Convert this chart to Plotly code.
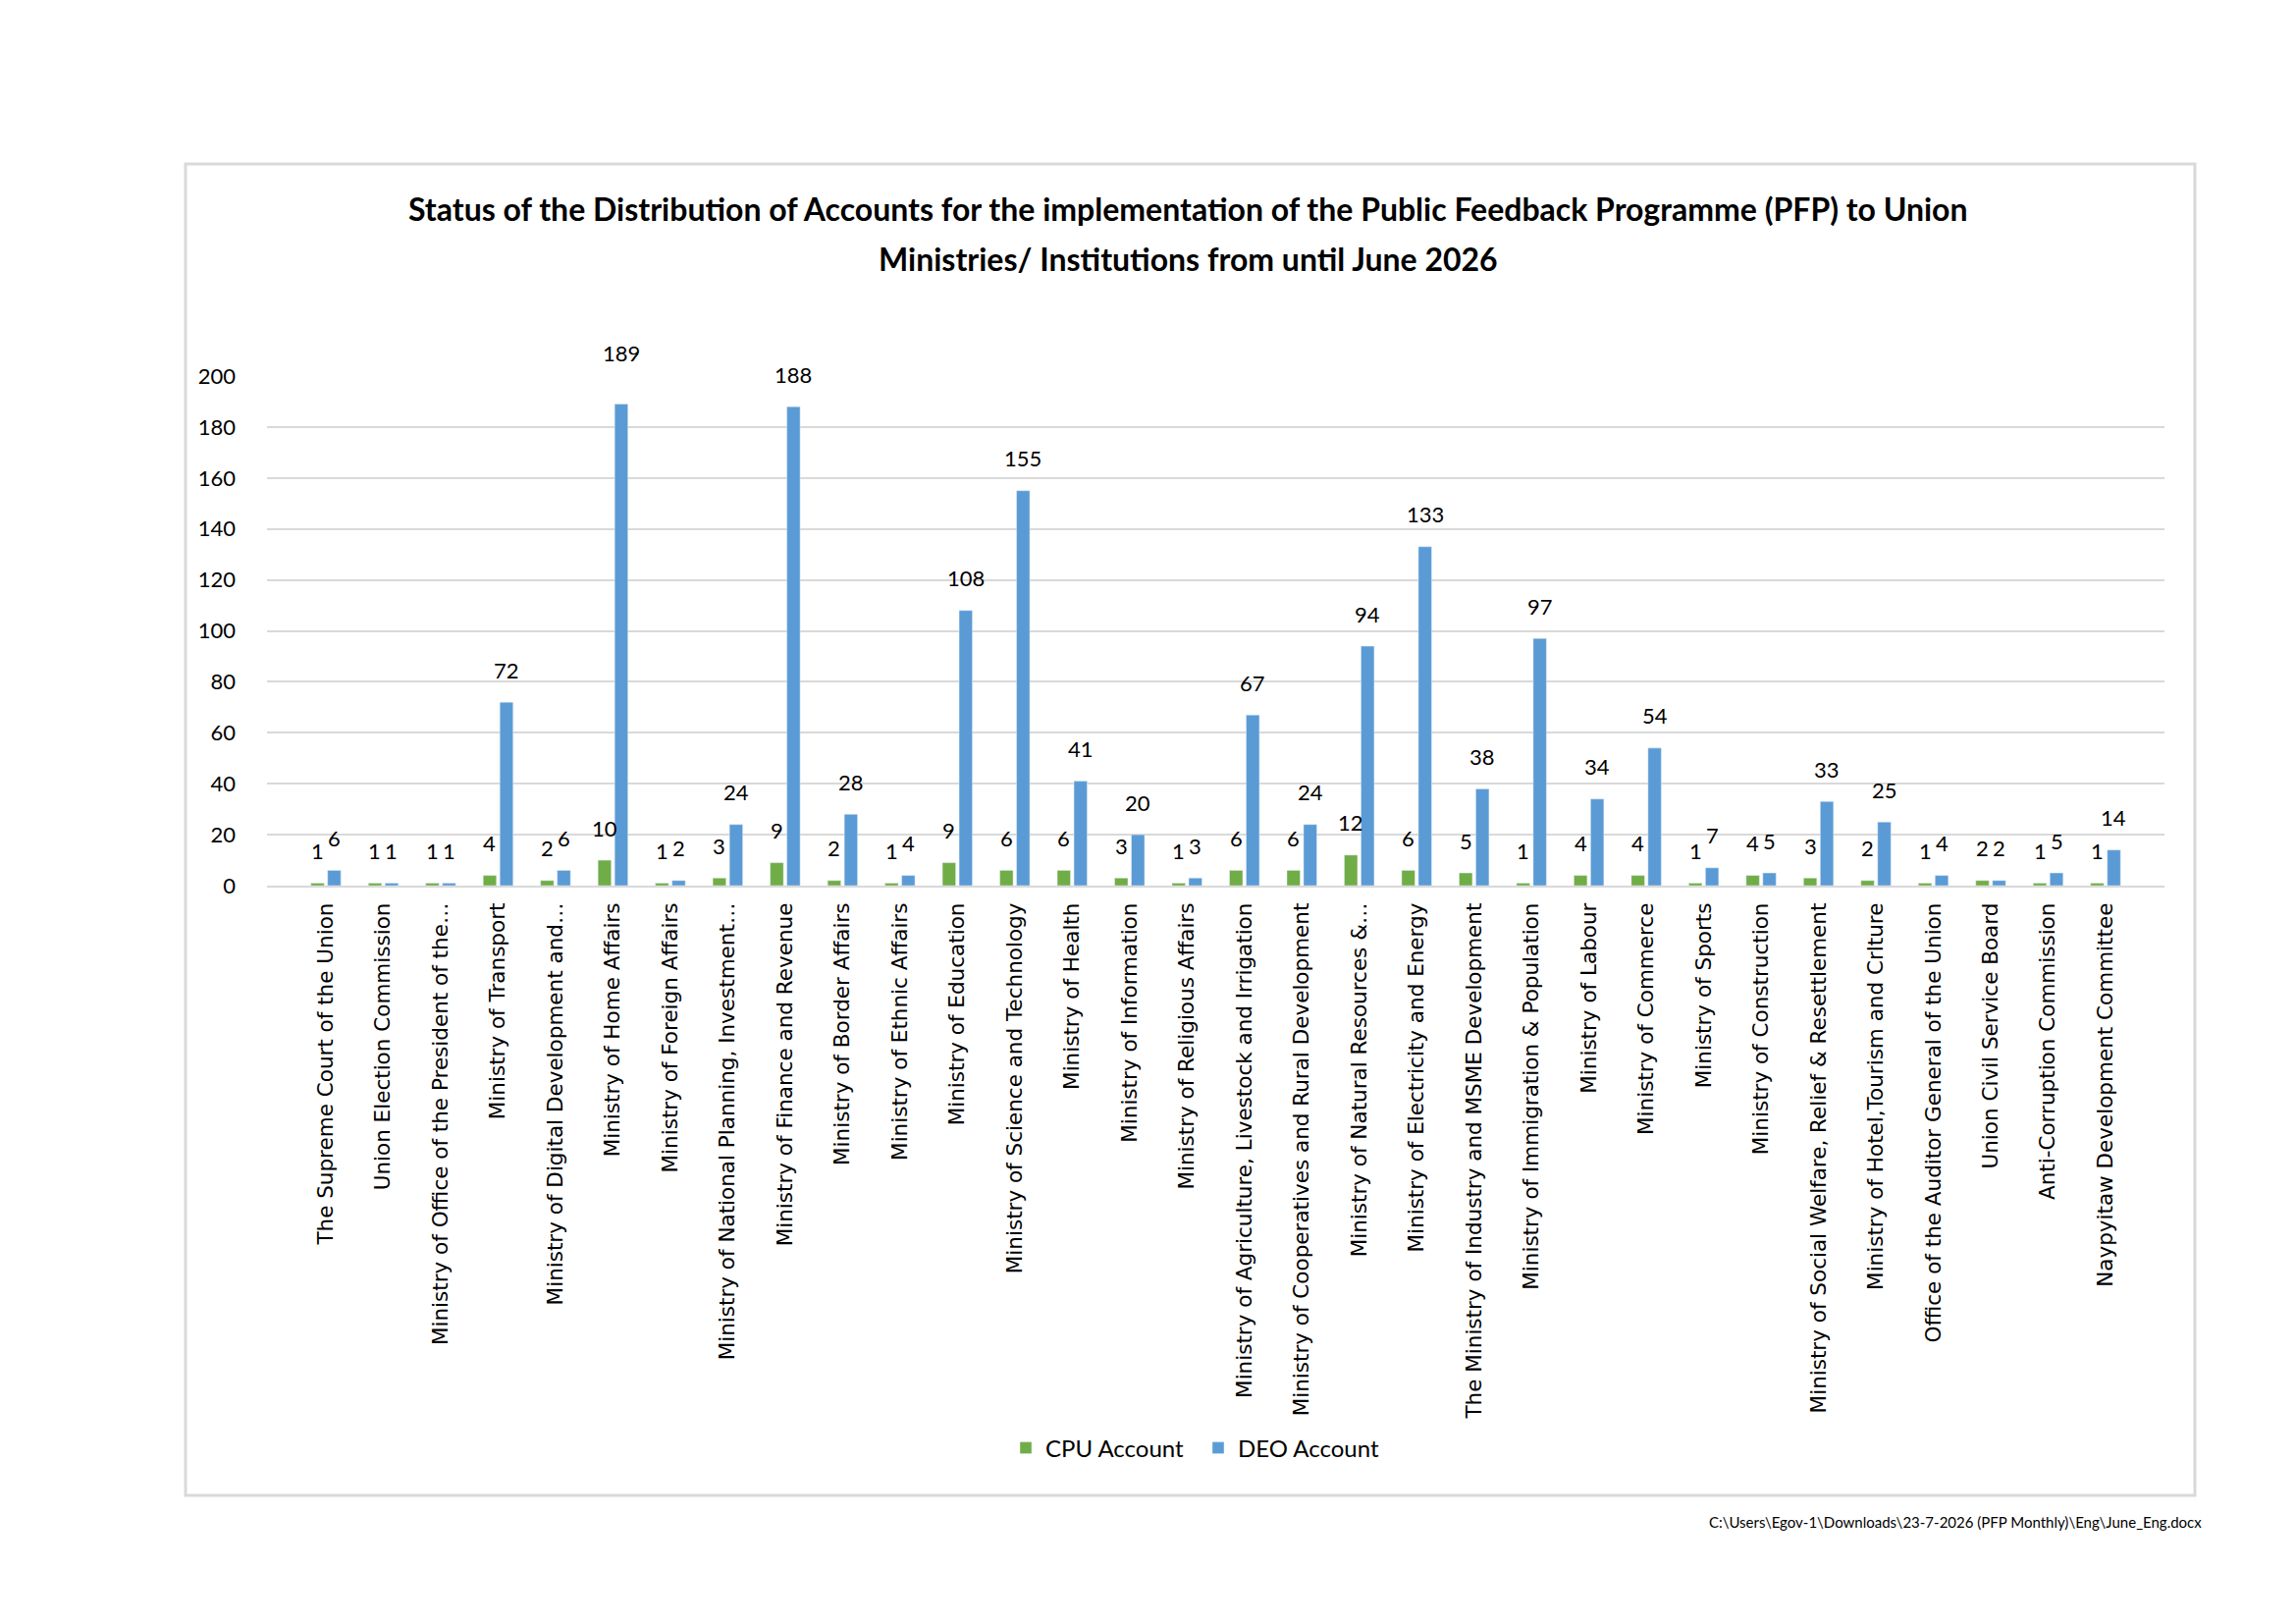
import plotly.graph_objects as go

categories = [
    "The Supreme Court of the Union",
    "Union Election Commission",
    "Ministry of Office of the President of the…",
    "Ministry of Transport",
    "Ministry of Digital Development and…",
    "Ministry of Home Affairs",
    "Ministry of Foreign Affairs",
    "Ministry of National Planning, Investment…",
    "Ministry of Finance and Revenue",
    "Ministry of Border Affairs",
    "Ministry of Ethnic Affairs",
    "Ministry of Education",
    "Ministry of Science and Technology",
    "Ministry of Health",
    "Ministry of Information",
    "Ministry of Religious Affairs",
    "Ministry of Agriculture, Livestock and Irrigation",
    "Ministry of Cooperatives and Rural Development",
    "Ministry of Natural Resources &…",
    "Ministry of Electricity and Energy",
    "The Ministry of Industry and MSME Development",
    "Ministry of Immigration & Population",
    "Ministry of Labour",
    "Ministry of Commerce",
    "Ministry of Sports",
    "Ministry of Construction",
    "Ministry of Social Welfare, Relief & Resettlement",
    "Ministry of Hotel,Tourism and Crlture",
    "Office of the Auditor General of the Union",
    "Union Civil Service Board",
    "Anti-Corruption Commission",
    "Naypyitaw Development Committee",
]
cpu_account = [1, 1, 1, 4, 2, 10, 1, 3, 9, 2, 1, 9, 6, 6, 3, 1, 6, 6, 12, 6, 5, 1, 4, 4, 1, 4, 3, 2, 1, 2, 1, 1]
deo_account = [6, 1, 1, 72, 6, 189, 2, 24, 188, 28, 4, 108, 155, 41, 20, 3, 67, 24, 94, 133, 38, 97, 34, 54, 7, 5, 33, 25, 4, 2, 5, 14]
y_ticks = [0, 20, 40, 60, 80, 100, 120, 140, 160, 180, 200]

title_line1 = "Status of the Distribution of Accounts for the implementation of the Public Feedback Programme (PFP) to Union"
title_line2 = "Ministries/ Institutions from until June 2026"
footer_text = "C:\\Users\\Egov-1\\Downloads\\23-7-2026 (PFP Monthly)\\Eng\\June_Eng.docx"

W, H = 2339, 1654
L, R = 264, 2197
T, B = 375, 894
PW, PH = R - L, B - T

LATO = "Lato, Open Sans, sans-serif"
SANS = "DejaVu Sans, Verdana, sans-serif"

# categorical axis padding (Excel leaves space before the first and after the last group)
PAD = 0.526
N = len(categories)
cat_px = PW / (N + 2 * PAD)
BARGAP = 0.419
BARGROUPGAP = 0.206
slot = (1 - BARGAP) * cat_px / 2
LABEL_LIFT = 33
# the reference lifts the tallest label a little further above its bar
label_extra_lift = {"Ministry of Home Affairs": 19}


def px_x(v):
    return (v - L) / PW


def px_y(v):
    return (B - v) / PH


fig = go.Figure()
fig.add_trace(go.Bar(name="CPU Account", x=categories, y=cpu_account, marker_color="#70AD47"))
fig.add_trace(go.Bar(name="DEO Account", x=categories, y=deo_account, marker_color="#5B9BD5"))

label_font = dict(family=LATO, size=22, color="#000000")
annotations = []
for cat, c, d in zip(categories, cpu_account, deo_account):
    annotations.append(dict(x=cat, y=c, xref="x", yref="y", text=str(c), showarrow=False,
                            xshift=-slot / 2, yshift=LABEL_LIFT, yanchor="middle", xanchor="center",
                            font=label_font))
    annotations.append(dict(x=cat, y=d, xref="x", yref="y", text=str(d), showarrow=False,
                            xshift=slot / 2, yshift=LABEL_LIFT + label_extra_lift.get(cat, 0),
                            yanchor="middle", xanchor="center", font=label_font))

title_font = dict(family=LATO, size=32, color="#000000", weight="bold")
annotations.append(dict(text=title_line1, xref="paper", yref="paper", x=px_x(1202), y=px_y(204),
                        xanchor="center", yanchor="middle", showarrow=False, font=title_font))
annotations.append(dict(text=title_line2, xref="paper", yref="paper", x=px_x(1202), y=px_y(256),
                        xanchor="center", yanchor="middle", showarrow=False, font=title_font))
annotations.append(dict(text=footer_text, xref="paper", yref="paper", x=px_x(2237), y=px_y(1542),
                        xanchor="right", yanchor="middle", showarrow=False,
                        font=dict(family=LATO, size=15, color="#000000")))

fig.update_layout(
    width=W, height=H,
    margin=dict(l=L, r=W - R, t=T, b=H - B, autoexpand=False),
    paper_bgcolor="white", plot_bgcolor="white",
    barmode="group", bargap=BARGAP, bargroupgap=BARGROUPGAP,
    legend=dict(orientation="h", x=px_x(1213), xanchor="center", y=px_y(1467), yanchor="middle",
                font=dict(family=LATO, size=24, color="#000000"), itemwidth=30,
                entrywidth=151, entrywidthmode="pixels", traceorder="normal"),
    showlegend=True,
    shapes=[dict(type="rect", xref="paper", yref="paper",
                 x0=px_x(181), x1=px_x(2228), y0=px_y(1515), y1=px_y(159),
                 line=dict(color="#D9D9D9", width=3), fillcolor="rgba(0,0,0,0)", layer="below")],
    annotations=annotations,
)
fig.update_xaxes(
    range=[-0.5 - PAD, N - 0.5 + PAD],
    tickangle=-90, tickfont=dict(family=SANS, size=21.5, color="#000000"),
    showgrid=False, showline=True, linecolor="#D9D9D9", linewidth=2,
    ticks="", ticklabelstandoff=7, zeroline=False,
)
fig.update_yaxes(
    range=[0, 200], tickvals=y_ticks, tickfont=dict(family=LATO, size=22, color="#000000"),
    showgrid=True, gridcolor="#D9D9D9", gridwidth=2, zeroline=False, showline=False,
    ticks="", ticklabelstandoff=31,
)

fig.write_html("out.html")
